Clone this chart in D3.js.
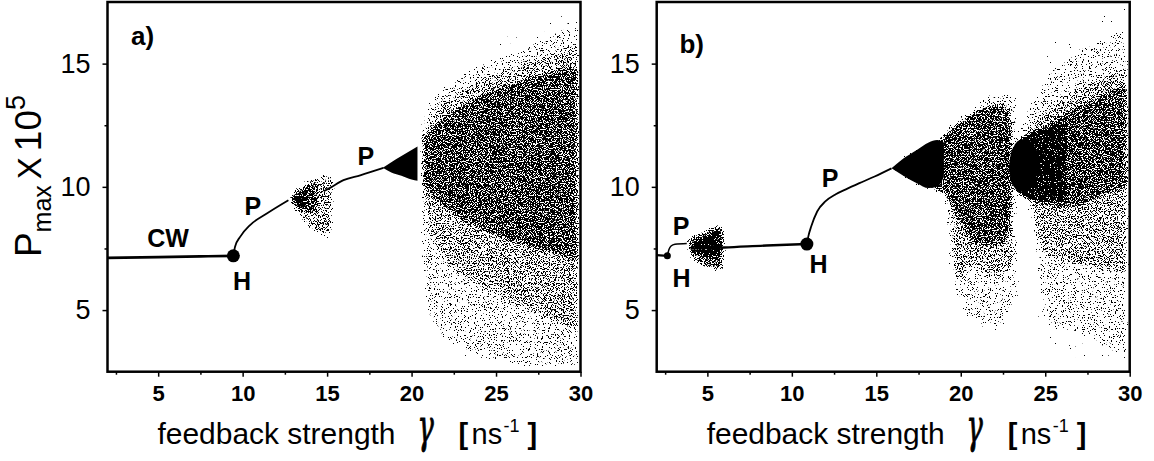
<!DOCTYPE html>
<html>
<head>
<meta charset="utf-8">
<script src="https://cdn.jsdelivr.net/npm/d3@7"></script>
<style>
  body { margin: 0; background: #fff; }
  svg text { font-family: "Liberation Sans", Arial, sans-serif; fill: #000; }
</style>
</head>
<body>
<svg id="chart" width="1154" height="461"></svg>
<script>
    // axes
    var xDomain = [2, 30];
    var yDomain = [2.5, 17.5];
    var xTicks = [5, 10, 15, 20, 25, 30];
    var xMinor = [2.5, 7.5, 12.5, 17.5, 22.5, 27.5];
    var yTicks = [5, 10, 15];
    var yMinor = [7.5, 12.5];

    // panel a) : branches [gamma, Pmax]
    var aCW = [[2, 7.12], [5, 7.15], [7.5, 7.18], [9.45, 7.2]];
    var aP1 = [[9.45, 7.2], [9.55, 7.57], [9.85, 7.97], [10.44, 8.45], [11.43, 8.92], [12.71, 9.46]];
    var aP2 = [[14.8, 9.82], [15.2, 9.97], [15.97, 10.27], [16.96, 10.47], [18.34, 10.77]];
    var aHopf = [[9.45, 7.2, 6.5]];

    // panel a) : chaotic clouds [gamma, lower, upper]
    var aCloud1Solid = [[12.7, 9.46, 9.46], [12.85, 9.22, 9.7], [13.2, 9.08, 9.88], [13.6, 9.05, 10.0], [14.0, 9.15, 10.05]];
    var aCloud1Dense = [[12.7, 9.46, 9.46], [12.85, 9.18, 9.78], [13.2, 8.95, 10.02], [13.7, 8.8, 10.2], [14.2, 8.8, 10.3], [14.7, 9.0, 10.35]];
    var aCloud1Sparse = [[12.8, 9.3, 9.65], [13.3, 8.8, 10.1], [13.8, 8.35, 10.32], [14.3, 8.1, 10.45], [14.9, 7.95, 10.55], [15.5, 8.0, 10.55]];
    var aCloud2Solid = [[18.3, 10.77, 10.77], [18.8, 10.58, 11.0], [19.4, 10.45, 11.25], [20.0, 10.3, 11.5], [20.35, 10.25, 11.64]];
    var aChaosFaint = [[21, 5.0, 13.4], [22.5, 3.0, 14.6], [25, 2.55, 16.0], [30, 2.55, 17.4]];
    var aChaosSparse = [[20.4, 9.5, 12.4], [20.7, 5.2, 13.0], [21.2, 4.3, 13.7], [22, 3.7, 14.2], [23, 3.3, 14.7], [24, 3.0, 15.1], [25, 2.8, 15.4], [26, 2.7, 15.6], [27, 2.6, 15.9], [28, 2.6, 16.2], [29, 2.6, 16.5], [30, 2.6, 16.7]];
    var aChaosMedium = [[20.5, 9.6, 12.3], [21.2, 7.6, 13.1], [22, 6.8, 13.6], [23, 6.2, 14.1], [24, 5.8, 14.5], [25, 5.4, 14.8], [26, 5.1, 15.0], [27, 4.8, 15.3], [28, 4.5, 15.5], [29, 4.2, 15.7], [30, 4.0, 15.9]];
    var aChaosDense = [[20.5, 10.0, 12.1], [21.5, 9.2, 12.8], [22.5, 8.7, 13.3], [23.5, 8.3, 13.7], [24.5, 8.0, 14.0], [25.5, 7.7, 14.3], [26.5, 7.5, 14.5], [27.5, 7.3, 14.7], [28.5, 7.1, 14.9], [30, 6.7, 15.1]];
    var aStreak = [[20.5, 5.8, 9.8], [20.8, 5.8, 9.8]];

    // panel b) : branches
    var bCW1 = [[2, 7.23], [2.63, 7.2]];
    var bP1 = [[2.63, 7.2], [2.72, 7.45], [2.85, 7.6], [3.08, 7.67], [3.78, 7.7]];
    var bCW2 = [[4.0, 7.5], [6.0, 7.54], [8.5, 7.62], [10.89, 7.68]];
    var bP2 = [[10.89, 7.68], [10.98, 8.0], [11.15, 8.4], [11.5, 9.0], [12.0, 9.42], [12.6, 9.7], [13.2, 9.9], [14.0, 10.15], [14.9, 10.42], [15.9, 10.75]];
    var bHopf = [[2.63, 7.2, 3.5], [10.89, 7.68, 6.5]];

    // panel b) : clouds
    var bTorusMedium = [[3.72, 7.66, 7.8], [3.95, 7.15, 8.02], [4.5, 6.8, 8.2], [5.2, 6.6, 8.4], [6.02, 6.5, 8.6]];
    var bTorusDense = [[3.78, 7.7, 7.75], [4.1, 7.3, 8.0], [4.7, 7.1, 8.15], [5.3, 7.0, 8.3], [6.0, 6.9, 8.45]];
    var bChaos1Solid = [[15.9, 10.75, 10.75], [16.6, 10.45, 11.15], [17.4, 10.15, 11.5], [18.1, 9.95, 11.8], [18.6, 10.0, 11.9], [19.0, 10.4, 11.8]];
    var bChaos1Dense = [[15.9, 10.75, 10.75], [17, 10.2, 11.4], [18.8, 9.65, 12.1], [19.2, 9.3, 12.4], [19.5, 8.8, 12.55], [20.2, 7.9, 12.9], [21, 7.5, 13.25], [22, 7.4, 13.45], [22.8, 7.6, 13.3], [23.2, 8.5, 12.8]];
    var bChaos1Medium = [[19.2, 9.0, 12.4], [19.5, 6.2, 12.6], [20.0, 6.0, 12.9], [20.5, 6.6, 13.1], [21.5, 6.4, 13.5], [22.5, 6.2, 13.6], [23.3, 6.8, 13.2]];
    var bChaos1Sparse = [[18.8, 9.6, 12.2], [19.4, 6.3, 12.5], [20.4, 4.6, 13.1], [21.5, 4.2, 13.8], [22.3, 4.05, 13.9], [22.9, 4.6, 13.9], [23.5, 5.6, 13.6]];
    var bChaos2Solid = [[22.85, 10.8, 10.8], [22.95, 10.3, 11.3], [23.15, 10.0, 11.65], [23.5, 9.8, 11.9], [23.9, 9.8, 11.95], [24.3, 10.2, 11.7], [24.7, 10.7, 11.2]];
    var bChaos2Heavy = [[22.9, 10.8, 10.8], [23.1, 10.0, 11.7], [23.6, 9.55, 12.1], [24.3, 9.3, 12.4], [25.0, 9.2, 12.6], [25.8, 9.2, 12.8], [26.5, 9.4, 12.9]];
    var bChaos2Dense = [[22.9, 10.8, 10.8], [23.1, 10.1, 11.6], [23.6, 9.6, 12.0], [24.5, 9.2, 12.5], [25.5, 9.0, 12.9], [26.5, 9.0, 13.3], [27.5, 9.2, 13.6], [28.5, 9.5, 14.0], [30, 9.8, 14.4]];
    var bChaos2Medium = [[23.1, 9.9, 11.9], [24.0, 9.2, 12.6], [24.5, 7.4, 13.0], [25.5, 6.9, 13.5], [26.5, 6.7, 14.0], [27.5, 6.6, 14.4], [28.5, 6.5, 14.7], [30, 6.3, 15.0]];
    var bChaos2Sparse = [[23.0, 10.0, 12.0], [23.6, 9.6, 12.9], [24.2, 8.0, 13.6], [24.6, 5.5, 14.1], [25, 4.4, 14.6], [26, 4.1, 15.2], [27, 4.0, 15.7], [28, 3.6, 16.0], [29, 3.2, 16.3], [30, 2.8, 16.5]];
    var bChaosFaint = [[24.3, 3.5, 14.6], [26, 3.0, 16.3], [30, 2.6, 17.4]];

    // text labels [text, gamma, Pmax]
    var aLabels = [["CW", 5.58, 7.55], ["H", 9.96, 5.81], ["P", 10.61, 8.85], ["P", 17.29, 10.88]];
    var bLabels = [["P", 3.44, 8.04], ["H", 3.47, 5.93], ["H", 11.58, 6.5], ["P", 12.26, 9.99]];

    // noise thresholds for the stippled point clouds
    var levels = { faint: 0.76, sparse: 0.63, medium: 0.54, dense: 0.43, heavy: 0.32 };

    var panels = [
      {
        name: "a)", left: 107.5, yTitle: true,
        lines: [[aCW, 2.6], [aP1, 1.8], [aP2, 1.8]],
        hopf: aHopf,
        labels: aLabels,
        clouds: [
          [aChaosFaint, "faint"], [aChaosSparse, "sparse"], [aStreak, "sparse"],
          [aChaosMedium, "medium"], [aChaosDense, "dense"],
          [aCloud1Sparse, "medium"], [aCloud1Dense, "dense"], [aCloud1Solid, "heavy"],
          [aCloud2Solid, "solid"]
        ]
      },
      {
        name: "b)", left: 656.7, yTitle: false,
        lines: [[bCW1, 2.2], [bP1, 1.5], [bCW2, 2.4], [bP2, 1.8]],
        hopf: bHopf,
        labels: bLabels,
        clouds: [
          [bChaosFaint, "faint"], [bChaos1Sparse, "sparse"], [bChaos2Sparse, "sparse"],
          [bChaos1Medium, "medium"], [bChaos2Medium, "medium"],
          [bChaos1Dense, "dense"], [bChaos2Dense, "dense"], [bChaos2Heavy, "heavy"],
          [bChaos1Solid, "solid"], [bChaos2Solid, "solid"],
          [bTorusMedium, "dense"], [bTorusDense, "heavy"]
        ]
      }
    ];

    var svg = d3.select("#chart");
    var defs = svg.append("defs");
    var plotW = 473, plotTop = 2, plotBottom = 371.7;

    // stipple: noise thresholded, with a soft fall-off near the edge of each region
    // (outside a region the threshold is above 1, so no dot can appear there)
    var sharp = 40, outside = 1.05;
    Object.keys(levels).forEach(function(k) {
      var f = defs.append("filter").attr("id", "stipple-" + k)
        .attr("x", "-10%").attr("y", "-10%").attr("width", "120%").attr("height", "120%")
        .attr("color-interpolation-filters", "sRGB");
      f.append("feTurbulence").attr("type", "fractalNoise")
        .attr("baseFrequency", 0.85).attr("numOctaves", 2).attr("seed", 7).attr("result", "noise");
      f.append("feColorMatrix").attr("in", "noise").attr("type", "matrix")
        .attr("values", "0 0 0 0 0  0 0 0 0 0  0 0 0 0 0  1 0 0 0 0")
        .attr("result", "n");
      f.append("feGaussianBlur").attr("in", "SourceAlpha").attr("stdDeviation", 3).attr("result", "soft");
      f.append("feComposite").attr("in", "n").attr("in2", "soft").attr("operator", "arithmetic")
        .attr("k1", 0).attr("k2", sharp).attr("k3", sharp * (outside - levels[k]))
        .attr("k4", -sharp * outside);
    });

    function renderPanel(p, i) {
      var x = d3.scaleLinear().domain(xDomain).range([p.left, p.left + plotW]);
      var y = d3.scaleLinear().domain(yDomain).range([plotBottom, plotTop]);
      var g = svg.append("g").attr("class", "panel");

      defs.append("clipPath").attr("id", "clip" + i)
        .append("rect").attr("x", p.left).attr("y", plotTop)
        .attr("width", plotW).attr("height", plotBottom - plotTop);

      var plot = g.append("g").attr("clip-path", "url(#clip" + i + ")");

      var area = d3.area()
        .x(function(d) { return x(d[0]); })
        .y0(function(d) { return y(d[1]); })
        .y1(function(d) { return y(d[2]); })
        .curve(d3.curveMonotoneX);

      p.clouds.forEach(function(c) {
        var path = plot.append("path").datum(c[0])
          .attr("d", area)
          .attr("fill", "#000");
        if (c[1] !== "solid") path.attr("filter", "url(#stipple-" + c[1] + ")");
      });

      var line = d3.line()
        .x(function(d) { return x(d[0]); })
        .y(function(d) { return y(d[1]); })
        .curve(d3.curveMonotoneX);

      p.lines.forEach(function(l) {
        plot.append("path").datum(l[0])
          .attr("d", line)
          .attr("fill", "none")
          .attr("stroke", "#000")
          .attr("stroke-width", l[1]);
      });

      plot.selectAll("circle.hopf").data(p.hopf).enter().append("circle")
        .attr("class", "hopf")
        .attr("cx", function(d) { return x(d[0]); })
        .attr("cy", function(d) { return y(d[1]); })
        .attr("r", function(d) { return d[2]; })
        .attr("fill", "#000");

      g.selectAll("text.mark").data(p.labels).enter().append("text")
        .attr("class", "mark")
        .attr("x", function(d) { return x(d[1]); })
        .attr("y", function(d) { return y(d[2]); })
        .attr("text-anchor", "middle")
        .style("font-size", "25px").style("font-weight", "bold")
        .text(function(d) { return d[0]; });

      g.append("text")
        .attr("x", p.left + 35).attr("y", i === 0 ? 45 : 53)
        .attr("text-anchor", "middle")
        .style("font-size", "26px").style("font-weight", "bold")
        .text(p.name);

      // axes
      var xAxis = g.append("g").attr("transform", "translate(0," + plotBottom + ")")
        .call(d3.axisBottom(x).tickValues(xTicks).tickSize(5).tickPadding(9));
      xAxis.select(".domain").remove();
      xAxis.selectAll("line").attr("stroke-width", 1.5);
      xAxis.selectAll("text").style("font-size", "22px").style("font-weight", "bold")
        .style("font-family", "'Liberation Sans', Arial, sans-serif");

      var xMin = g.append("g").attr("transform", "translate(0," + plotBottom + ")")
        .call(d3.axisBottom(x).tickValues(xMinor).tickSize(3).tickFormat(""));
      xMin.select(".domain").remove();
      xMin.selectAll("line").attr("stroke-width", 1.5);

      var yAxis = g.append("g").attr("transform", "translate(" + p.left + ",0)")
        .call(d3.axisLeft(y).tickValues(yTicks).tickSize(5).tickPadding(12));
      yAxis.select(".domain").remove();
      yAxis.selectAll("line").attr("stroke-width", 1.5);
      yAxis.selectAll("text").style("font-size", "27px")
        .style("font-family", "'Liberation Sans', Arial, sans-serif");

      var yMin = g.append("g").attr("transform", "translate(" + p.left + ",0)")
        .call(d3.axisLeft(y).tickValues(yMinor).tickSize(3).tickFormat(""));
      yMin.select(".domain").remove();
      yMin.selectAll("line").attr("stroke-width", 1.5);

      g.append("rect")
        .attr("x", p.left).attr("y", plotTop)
        .attr("width", plotW).attr("height", plotBottom - plotTop)
        .attr("fill", "none").attr("stroke", "#000").attr("stroke-width", 2.5);

      // x title
      var x0 = p.left + 50, base = 444;
      g.append("text").attr("x", x0).attr("y", base)
        .attr("textLength", 238).attr("lengthAdjust", "spacingAndGlyphs")
        .style("font-size", "29px").text("feedback strength");
      g.append("text")
        .attr("transform", "translate(" + (x0 + 268) + "," + (base - 2) + ") scale(0.8,1.35)")
        .attr("text-anchor", "middle")
        .style("font-family", "'DejaVu Serif', serif").style("font-style", "italic")
        .style("stroke", "#000").style("stroke-width", 0.7)
        .style("font-size", "34px").text("γ");
      g.append("text").attr("x", x0 + 301).attr("y", base)
        .style("font-size", "29px").style("font-weight", "bold").text("[");
      g.append("text").attr("x", x0 + 314).attr("y", base)
        .style("font-size", "29px").text("ns");
      g.append("text").attr("x", x0 + 346).attr("y", base - 12)
        .style("font-size", "18px").text("-1");
      g.append("text").attr("x", x0 + 370).attr("y", base)
        .style("font-size", "29px").style("font-weight", "bold").text("]");

      if (p.yTitle) {
        var t = g.append("text")
          .attr("transform", "translate(41,176) rotate(-90)")
          .attr("text-anchor", "middle");
        t.append("tspan").style("font-size", "37px").text("P");
        t.append("tspan").style("font-size", "25px").attr("dy", 10).text("max");
        t.append("tspan").style("font-size", "33px").attr("dy", -10).attr("dx", 6).text("X");
        t.append("tspan").style("font-size", "37px").attr("dx", 6).text("10");
        t.append("tspan").style("font-size", "27px").attr("dy", -16).text("5");
      }
    }

    panels.forEach(renderPanel);
</script>
</body>
</html>
